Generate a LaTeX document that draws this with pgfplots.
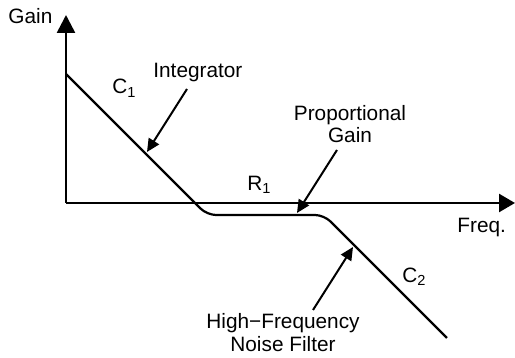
\documentclass[border=0pt]{standalone}
\usepackage{pgfplots}
\pgfplotsset{compat=1.18}
\usepackage{fontspec}
\setmainfont{Liberation Sans}
\usetikzlibrary{arrows.meta}
\newcommand{\lbl}{\fontsize{10.4pt}{12pt}\selectfont}
\begin{document}
\lbl
\begin{tikzpicture}
\begin{axis}[
    hide axis,
    scale only axis,
    width=257.5pt, height=179pt,
    xmin=0, xmax=515, ymin=0, ymax=358,
    clip=false,
  ]
  % axes
  \addplot[line width=1.3pt, -{Triangle[length=9pt,width=9pt]}] coordinates {(66,155) (66,343)};
  \addplot[line width=1.3pt, -{Triangle[length=8pt,width=9pt]}] coordinates {(66,155) (515,155)};
  % gain curve
  \addplot[line width=1.1pt, rounded corners=4.5pt] coordinates {
    (66,284) (207,143) (324,143) (447,20)
  };
  % callout arrows
  \addplot[line width=1pt, -{Triangle[length=6.5pt,width=6pt]}] coordinates {(187,269) (147,206)};
  \addplot[line width=1pt, -{Triangle[length=6.5pt,width=6pt]}] coordinates {(337,208) (297,145)};
  \addplot[line width=1pt, -{Triangle[length=6.5pt,width=6pt]}] coordinates {(313,48) (353,111)};
  % labels
  \node[anchor=base west, inner sep=0pt, font=\lbl] at (axis cs:8,334) {Gain};
  \node[anchor=base west, inner sep=0pt, font=\lbl] at (axis cs:153,280.5) {Integrator};
  \node[anchor=base west, inner sep=0pt, font=\lbl] at (axis cs:112,264) {C\textsubscript{1}};
  \node[anchor=base, inner sep=0pt, font=\lbl] at (axis cs:350,237.3) {Proportional};
  \node[anchor=base, inner sep=0pt, font=\lbl] at (axis cs:350,215.5) {Gain};
  \node[anchor=base west, inner sep=0pt, font=\lbl] at (axis cs:247,167.3) {R\textsubscript{1}};
  \node[anchor=base west, inner sep=0pt, font=\lbl] at (axis cs:457,125.3) {Freq.};
  \node[anchor=base west, inner sep=0pt, font=\lbl] at (axis cs:402,75.3) {C\textsubscript{2}};
  \node[anchor=base, inner sep=0pt, font=\lbl] at (axis cs:283,29) {High−Frequency};
  \node[anchor=base, inner sep=0pt, font=\lbl] at (axis cs:283,6.3) {Noise Filter};
  \coordinate (bl) at (axis cs:0,0);
  \coordinate (tr) at (axis cs:515,358);
\end{axis}
\pgfresetboundingbox
\path (bl) rectangle (tr);
\end{tikzpicture}
\end{document}
